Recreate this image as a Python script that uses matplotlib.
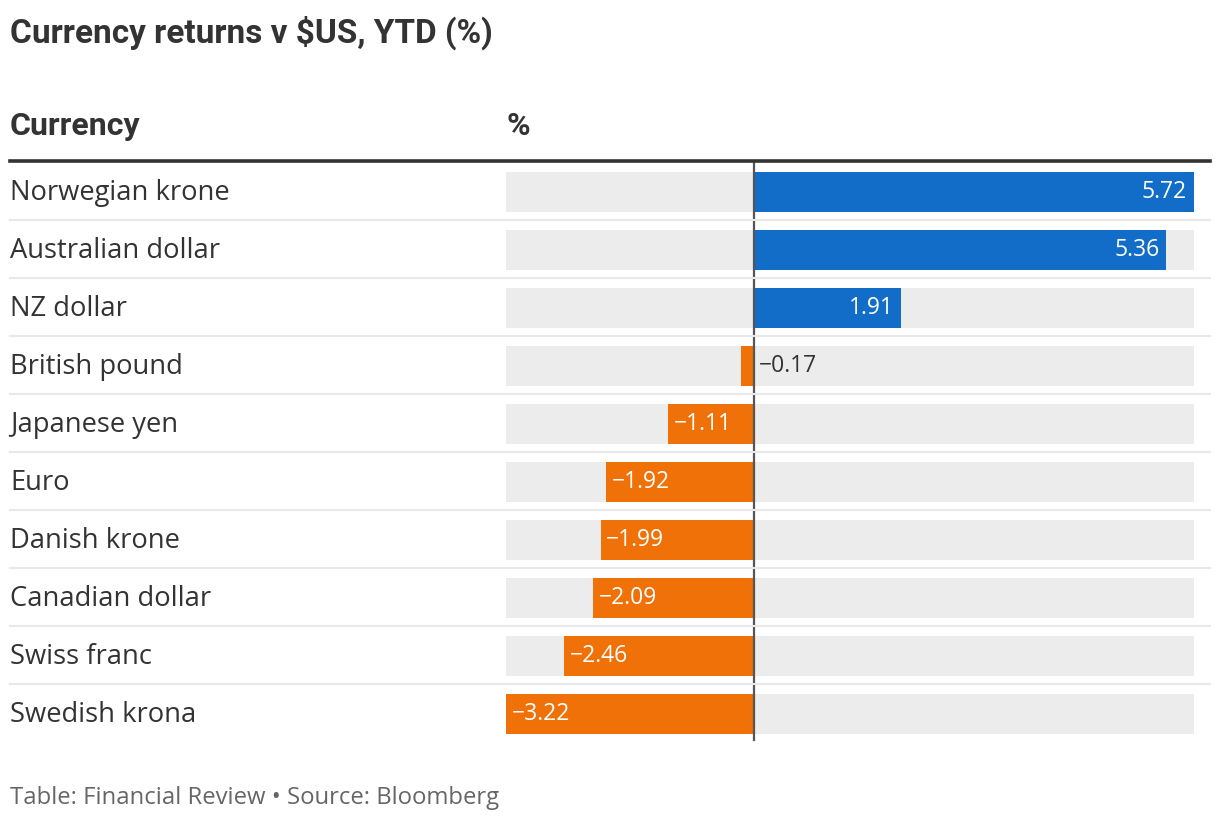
import matplotlib
matplotlib.use('Agg')
import matplotlib.pyplot as plt
from matplotlib.lines import Line2D

currencies = ['Norwegian krone', 'Australian dollar', 'NZ dollar', 'British pound',
              'Japanese yen', 'Euro', 'Danish krone', 'Canadian dollar',
              'Swiss franc', 'Swedish krona']
returns = [5.72, 5.36, 1.91, -0.17, -1.11, -1.92, -1.99, -2.09, -2.46, -3.22]

title = 'Currency returns v $US, YTD (%)'
col_headers = ['Currency', '%']
footer = 'Table: Financial Review \u2022 Source: Bloomberg'

BLUE = '#116dc8'
ORANGE = '#f07108'
BG = '#ececec'
TXT = '#333333'

W, H = 1220, 824
plt.rcParams['font.family'] = ['Open Sans', 'DejaVu Sans']
fig = plt.figure(figsize=(W / 100, H / 100), dpi=100)


def fx(px):
    return px / W


def fy(py):
    return 1 - py / H


# bar panel: rows of 58px starting at y=163
top, row_h = 163, 58
n = len(currencies)
ax = fig.add_axes([fx(506), fy(top + row_h * n), fx(1194) - fx(506), row_h * n / H])
lo, hi = min(returns), max(returns)
ax.set_xlim(lo, hi)
ax.set_ylim(n - 0.5, -0.5)
ax.axis('off')

ys = list(range(n))
bh = 40 / row_h
ax.barh(ys, [hi - lo] * n, left=lo, height=bh, color=BG, zorder=1)
colors = [BLUE if v >= 0 else ORANGE for v in returns]
ax.barh(ys, returns, height=bh, color=colors, zorder=2)
ax.plot([0, 0], [-0.5, n - 0.55], color='#555555', lw=1.6, zorder=3, clip_on=False)

for y, v in zip(ys, returns):
    s = f'{v:.2f}'.replace('-', '\u2212')
    if abs(v) < 0.5:
        ax.annotate(s, (0, y), xytext=(4, 0), textcoords='offset points',
                    ha='left', va='center', color=TXT, fontsize=16.5, zorder=4)
    elif v > 0:
        ax.annotate(s, (v, y), xytext=(-5, 0), textcoords='offset points',
                    ha='right', va='center', color='white', fontsize=16.5, zorder=4)
    else:
        ax.annotate(s, (v, y), xytext=(4, 0), textcoords='offset points',
                    ha='left', va='center', color='white', fontsize=16.5, zorder=4)

# row labels and separators
for i, name in enumerate(currencies):
    fig.text(fx(10), fy(top + row_h * i + 30), name, ha='left', va='center',
             fontsize=19.7, color=TXT)
    if i < n - 1:
        yl = fy(top + row_h * (i + 1) - 1)
        fig.add_artist(Line2D([fx(10), fx(1210)], [yl, yl], color='#e8e8e8', lw=1.5))

# header line
fig.add_artist(Line2D([fx(10), fx(1210)], [fy(161), fy(161)], color=TXT, lw=2.6))

fig.text(fx(10), fy(33), title, ha='left', va='center', fontsize=24,
         fontweight='bold', color=TXT, family='Roboto')
fig.text(fx(10), fy(126), col_headers[0], ha='left', va='center', fontsize=23,
         fontweight='bold', color=TXT, family='Roboto')
fig.text(fx(507), fy(126), col_headers[1], ha='left', va='center', fontsize=23,
         fontweight='bold', color=TXT, family='Roboto')
fig.text(fx(10), fy(798), footer, ha='left', va='center', fontsize=17.2,
         color='#666666')

fig.savefig('out.png', dpi=100, facecolor='white')
